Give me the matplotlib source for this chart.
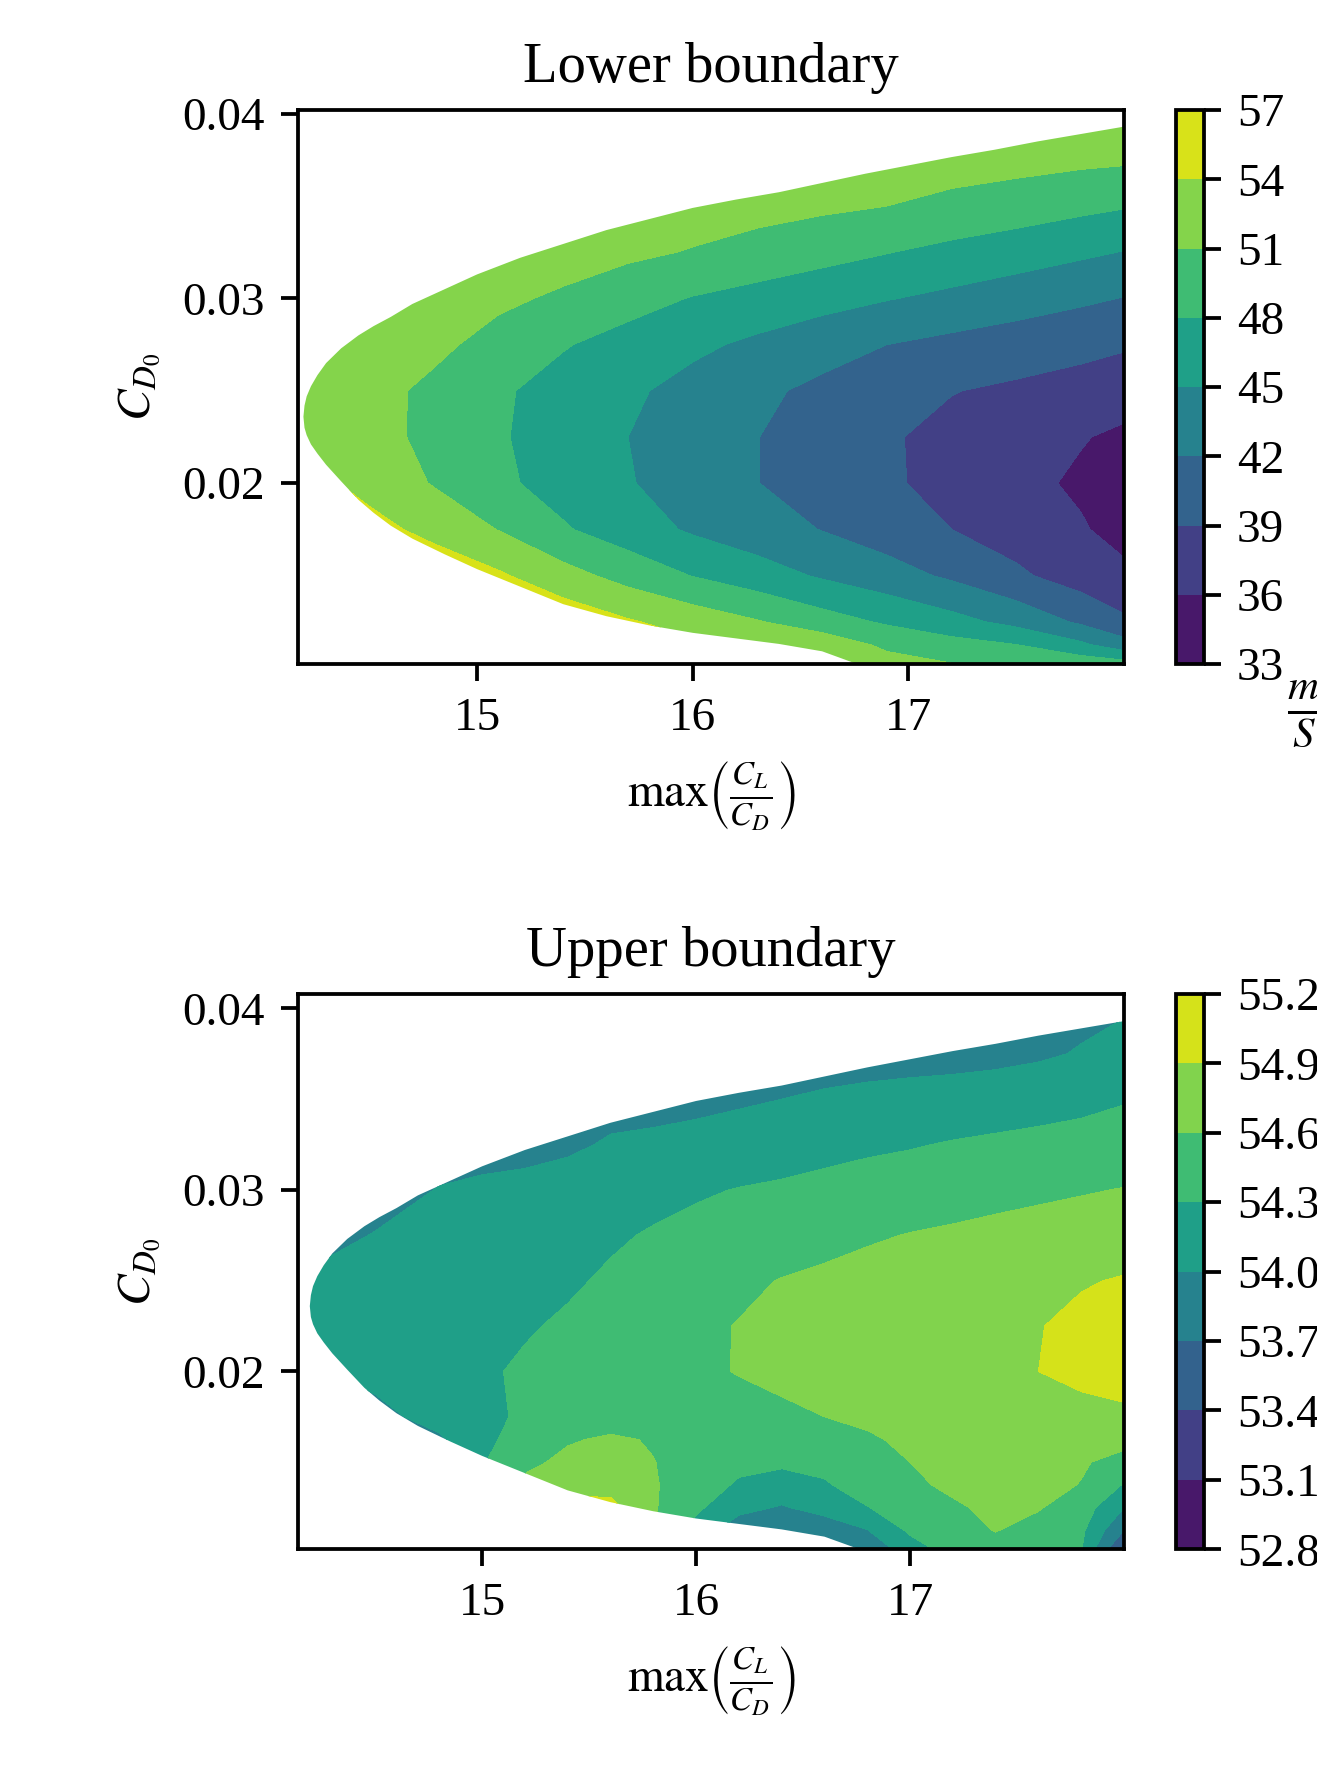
import numpy as np
import matplotlib
matplotlib.use('Agg')
import matplotlib.pyplot as plt
from matplotlib.patches import Polygon

# sizes are in points * 3.4 because the figure is drawn at dpi 100
S = 3.4
plt.rcParams['font.family'] = 'serif'
plt.rcParams['font.serif'] = ['Liberation Serif', 'DejaVu Serif']
plt.rcParams['mathtext.fontset'] = 'stix'
plt.rcParams['font.size'] = 10 * S
plt.rcParams['axes.linewidth'] = 0.8 * S
plt.rcParams['axes.titlepad'] = 6 * S
plt.rcParams['axes.labelpad'] = 4 * S
for a in ('xtick', 'ytick'):
    plt.rcParams[a + '.major.size'] = 3.5 * S
    plt.rcParams[a + '.major.width'] = 0.8 * S
    plt.rcParams[a + '.major.pad'] = 3.5 * S

# edge of the feasible region (CD0 in units of 1e-3)
edge_ld = [14.195, 14.2, 14.21, 14.23, 14.26, 14.3, 14.37, 14.45, 14.52,
           14.6, 14.7, 14.85, 15.0, 15.2, 15.4, 15.6, 15.8, 16.0, 16.2, 16.4,
           16.6, 16.8, 17.0, 17.2, 17.4, 17.6, 17.8, 18.1]
edge_upper = [23.6, 24.2, 24.7, 25.25, 25.85, 26.5, 27.3, 28.0, 28.5,
              29.0, 29.7, 30.5, 31.3, 32.2, 32.95, 33.7, 34.3, 34.9, 35.35,
              35.75, 36.25, 36.75, 37.2, 37.65, 38.05, 38.5, 38.9, 39.5]
edge_lower = [23.6, 23.0, 22.6, 22.1, 21.6, 21.0, 20.1, 19.1, 18.4,
              17.7, 17.0, 16.15, 15.35, 14.4, 13.45, 12.8, 12.3, 11.9, 11.6,
              11.3, 10.9, 10.05, 9.3, 9.0, 9.0, 9.0, 9.0, 9.0]

# lower boundary map
ld_lo = [14.15, 14.5, 14.8, 15.1, 15.4, 15.7, 16.0, 16.3, 16.6, 16.9, 17.2,
         17.5, 17.8, 18.0]
cd0_lo = [10, 11.25, 12.5, 15, 17.5, 20, 22.5, 25, 27.5, 30, 32.5, 35, 37.5,
          40]
val_lo = [
    [57, 57, 57, 57, 57, 56.5, 55.5, 54.5, 53.8, 52.5, 51.5, 51.0, 50.8, 50.5],
    [57, 57, 57, 57, 57, 56, 54.5, 53.8, 52.9, 50.4, 49.1, 48.05, 45.6, 43.2],
    [57, 57, 57, 57, 56, 54.3, 52.8, 51.2, 49.3, 47.6, 46.0, 44.1, 41.5, 39.5],
    [57, 57, 56, 54.4, 52.1, 49.9, 47.9, 46.3, 44.65, 43.2, 41.5, 39.5, 37.6,
     36.7],
    [57, 55, 53.1, 50.9, 48.3, 46.4, 44.6, 43.3, 41.9, 40.5, 39.0, 37.7, 36.3,
     34.9],
    [55.5, 53.0, 50.8, 48.6, 46.8, 45.2, 43.6, 42.05, 40.7, 39.4, 38.1, 36.9,
     35.5, 34.3],
    [54.2, 52.1, 50.2, 48.3, 46.6, 45.0, 43.5, 42.05, 40.6, 39.3, 38.2, 37.2,
     36.2, 35.4],
    [53.7, 52.0, 50.3, 48.4, 46.9, 45.5, 44.0, 42.6, 41.3, 40.2, 39.1, 38.5,
     37.9, 37.4],
    [54, 52.5, 51.7, 49.9, 48.2, 46.9, 45.6, 44.4, 43.2, 42.0, 41.2, 40.5,
     39.8, 39.3],
    [56, 54, 52.6, 51.6, 50.5, 49.1, 47.85, 46.95, 46.05, 45.15, 44.3, 43.4,
     42.5, 41.9],
    [57, 56, 55, 53.5, 52.4, 51.6, 50.8, 49.9, 49.0, 48.1, 47.2, 46.4, 45.5,
     44.9],
    [57, 57, 56, 55, 54.5, 53.5, 52.5, 52.0, 51.5, 51.0, 50.2, 49.5, 48.7,
     48.2],
    [57, 57, 57, 56, 55.5, 55, 54.5, 54, 53.5, 52.8, 52.3, 52.0, 51.6, 51.4],
    [57, 57, 57, 57, 56.5, 56, 55.5, 55, 54.5, 54, 53.5, 53.2, 52.8, 52.5],
]
levels_lo = [33, 36, 39, 42, 45, 48, 51, 54, 57]

# upper boundary map
ld_up = [14.15, 14.5, 14.8, 15.0, 15.2, 15.4, 15.6, 15.8, 16.0, 16.2, 16.4,
         16.6, 16.8, 17.0, 17.2, 17.4, 17.6, 17.8, 18.0]
cd0_up = [10, 11.25, 12.5, 13.75, 15, 16.25, 17.5, 20, 22.5, 25, 27.5, 30,
          32.5, 35, 37.5, 40]
val_up = [
    [54.5, 54.5, 54.5, 54.6, 54.6, 54.7, 54.7, 54.7, 54.5, 54.2, 53.8, 53.7,
     53.7, 54.13, 54.38, 54.48, 54.42, 54.3, 53.2],
    [54.6, 54.6, 54.6, 54.6, 54.6, 54.6, 54.6, 54.6, 54.2, 53.8, 53.75, 53.8,
     53.99, 54.35, 54.5, 54.61, 54.5, 54.36, 53.7],
    [54.7, 54.7, 54.7, 54.7, 54.8, 55.0, 55.0, 54.63, 54.35, 54.1, 53.97,
     54.12, 54.29, 54.45, 54.57, 54.65, 54.62, 54.45, 54.0],
    [54.3, 54.3, 54.3, 54.5, 54.7, 54.8, 54.78, 54.63, 54.42, 54.27, 54.2,
     54.27, 54.43, 54.56, 54.64, 54.7, 54.68, 54.59, 54.28],
    [54.1, 54.1, 54.1, 54.28, 54.5, 54.7, 54.72, 54.61, 54.45, 54.36, 54.34,
     54.38, 54.47, 54.6, 54.65, 54.68, 54.67, 54.63, 54.5],
    [54.0, 54.0, 53.95, 54.24, 54.4, 54.56, 54.66, 54.57, 54.5, 54.47, 54.47,
     54.5, 54.58, 54.63, 54.65, 54.66, 54.67, 54.68, 54.69],
    [53.9, 53.9, 54.12, 54.25, 54.33, 54.37, 54.4, 54.44, 54.48, 54.52, 54.56,
     54.6, 54.63, 54.67, 54.7, 54.73, 54.76, 54.8, 54.83],
    [53.95, 54.1, 54.2, 54.27, 54.33, 54.39, 54.45, 54.5, 54.56, 54.61, 54.65,
     54.69, 54.73, 54.78, 54.82, 54.86, 54.9, 54.98, 55.05],
    [54.05, 54.12, 54.19, 54.23, 54.28, 54.33, 54.4, 54.48, 54.55, 54.61,
     54.65, 54.69, 54.73, 54.77, 54.81, 54.85, 54.89, 54.96, 55.08],
    [54.02, 54.06, 54.13, 54.18, 54.23, 54.27, 54.33, 54.41, 54.48, 54.55,
     54.61, 54.65, 54.69, 54.73, 54.76, 54.8, 54.84, 54.88, 54.92],
    [53.9, 54.01, 54.08, 54.13, 54.18, 54.22, 54.27, 54.32, 54.37, 54.42,
     54.47, 54.52, 54.57, 54.61, 54.64, 54.67, 54.7, 54.73, 54.76],
    [53.9, 53.9, 54.01, 54.05, 54.09, 54.13, 54.18, 54.23, 54.27, 54.31,
     54.34, 54.38, 54.42, 54.45, 54.48, 54.52, 54.55, 54.58, 54.61],
    [53.9, 53.9, 53.9, 53.9, 53.9, 53.95, 54.03, 54.06, 54.1, 54.14, 54.17,
     54.21, 54.25, 54.28, 54.32, 54.35, 54.38, 54.41, 54.44],
    [53.9, 53.9, 53.9, 53.9, 53.9, 53.9, 53.9, 53.9, 53.92, 53.96, 54.0,
     54.03, 54.06, 54.09, 54.12, 54.15, 54.18, 54.22, 54.28],
    [53.9, 53.9, 53.9, 53.9, 53.9, 53.9, 53.9, 53.9, 53.9, 53.9, 53.9, 53.9,
     53.9, 53.9, 53.9, 53.92, 53.96, 54.02, 54.11],
    [53.9, 53.9, 53.9, 53.9, 53.9, 53.9, 53.9, 53.9, 53.9, 53.9, 53.9, 53.9,
     53.9, 53.9, 53.9, 53.9, 53.9, 53.93, 53.97],
]
levels_up = [52.8, 53.1, 53.4, 53.7, 54.0, 54.3, 54.6, 54.9, 55.2]


def draw_panel(ax, cax, ld, cd0, vals, levels, title, xlim, ylim):
    X, Y = np.meshgrid(ld, np.array(cd0) * 1e-3)
    cs = ax.contourf(X, Y, np.array(vals), levels=levels, cmap='viridis')
    # only the feasible part of the plane is filled
    pts = list(zip(edge_ld, np.array(edge_upper) * 1e-3))
    pts += list(zip(edge_ld[::-1], np.array(edge_lower[::-1]) * 1e-3))
    region = Polygon(pts, closed=True, transform=ax.transData)
    cs.set_clip_path(region)
    ax.set_xlim(*xlim)
    ax.set_ylim(*ylim)
    ax.set_xticks([15, 16, 17])
    ax.set_yticks([0.02, 0.03, 0.04])
    ax.set_title(title)
    ax.set_xlabel(r'$\max\left(\frac{C_L}{C_D}\right)$')
    ax.set_ylabel(r'$C_{D_0}$')
    cbar = plt.colorbar(cs, cax=cax, ticks=levels)
    cbar.ax.set_ylabel(r'$\frac{m}{S}$', rotation=0, ha='left', va='top',
                       y=-0.025, labelpad=2, fontsize=13 * S)
    return cs


fig = plt.figure(figsize=(13.17, 17.77), dpi=100)
ax1 = fig.add_axes([0.2263, 0.6262, 0.6272, 0.3119])
cax1 = fig.add_axes([0.8933, 0.6262, 0.0207, 0.3119])
ax2 = fig.add_axes([0.2263, 0.1281, 0.6272, 0.3126])
cax2 = fig.add_axes([0.8933, 0.1281, 0.0207, 0.3126])

draw_panel(ax1, cax1, ld_lo, cd0_lo, val_lo, levels_lo, 'Lower boundary',
           (14.17, 18.0), (0.0102, 0.0402))
draw_panel(ax2, cax2, ld_up, cd0_up, val_up, levels_up, 'Upper boundary',
           (14.14, 18.0), (0.0102, 0.0408))

fig.savefig('out.png', dpi=100)
